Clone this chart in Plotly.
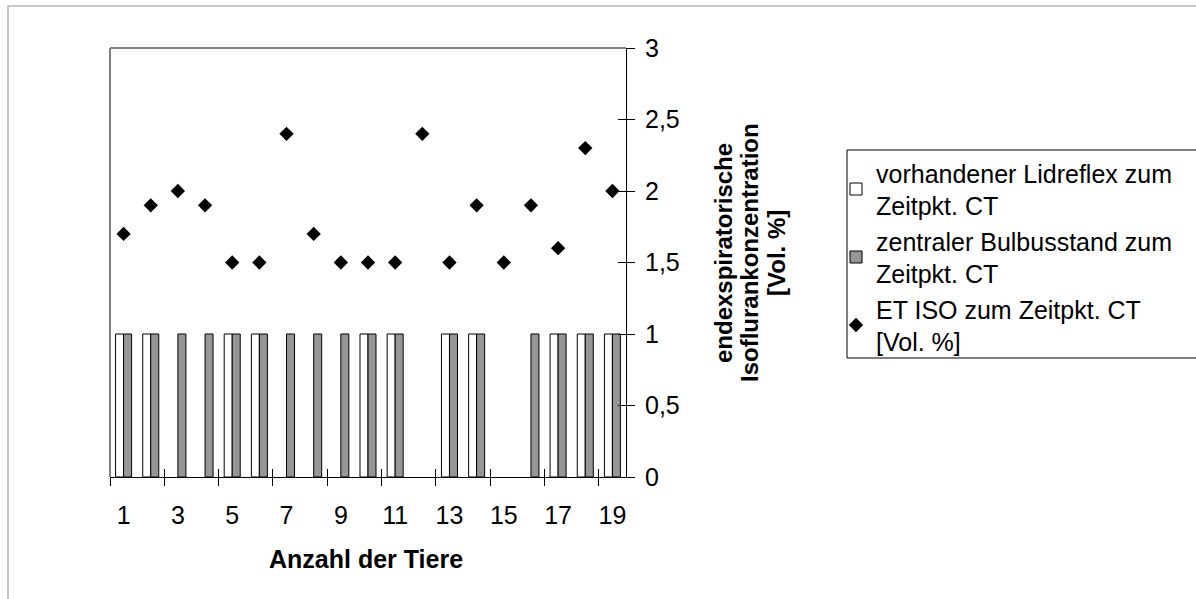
import plotly.graph_objects as go

# Tiere 1..19
tiere = list(range(1, 20))
tick_labels = [str(t) for t in tiere if t % 2 == 1]

# 1 = vorhanden, 0 = nicht vorhanden
lidreflex = [1, 1, 0, 0, 1, 1, 0, 0, 0, 1, 1, 0, 1, 1, 0, 0, 1, 1, 1]
bulbusstand = [1, 1, 1, 1, 1, 1, 1, 1, 1, 1, 1, 0, 1, 1, 0, 1, 1, 1, 1]
# endexspiratorische Isoflurankonzentration [Vol. %]
et_iso = [1.7, 1.9, 2.0, 1.9, 1.5, 1.5, 2.4, 1.7, 1.5, 1.5,
          1.5, 2.4, 1.5, 1.9, 1.5, 1.9, 1.6, 2.3, 2.0]

W, H = 1196, 599
L, R, T, B = 110, 626, 48, 477          # plot area in pixels
PW, PH = R - L, B - T


def px(x):
    return (x - L) / PW


def py(y):
    return (B - y) / PH


FONT = "Liberation Sans, Arial, sans-serif"
GRAY = "#969696"

fig = go.Figure()
fig.add_trace(go.Bar(
    x=tiere, y=[v if v else None for v in lidreflex],
    name="vorhandener Lidreflex zum<br>Zeitpkt. CT",
    marker=dict(color="white", line=dict(color="black", width=1)),
))
fig.add_trace(go.Bar(
    x=tiere, y=[v if v else None for v in bulbusstand],
    name="zentraler Bulbusstand zum<br>Zeitpkt. CT",
    marker=dict(color=GRAY, line=dict(color="black", width=1)),
))
fig.add_trace(go.Scatter(
    x=tiere, y=et_iso, mode="markers",
    name="ET ISO zum Zeitpkt. CT<br>[Vol. %]",
    marker=dict(symbol="diamond", size=11, color="black"),
))

boundaries = [t - 0.5 for t in tiere if t % 2 == 1]
xr = [0.5, 19.5]

fig.update_layout(
    width=W, height=H,
    margin=dict(l=L, r=W - R, t=T, b=H - B, autoexpand=False),
    paper_bgcolor="white", plot_bgcolor="white",
    separators=", ",
    font=dict(family=FONT, size=25, color="black"),
    barmode="group", bargap=0.41, bargroupgap=0,
    xaxis=dict(range=xr, tickmode="array", tickvals=boundaries,
               ticks="outside", ticklen=8, tickcolor="black", tickwidth=1,
               showticklabels=False, showgrid=False, zeroline=False,
               showline=True, linecolor="black", linewidth=1),
    xaxis2=dict(overlaying="x", anchor="y", range=xr, tickmode="array",
                tickvals=boundaries, ticks="inside", ticklen=8,
                tickcolor="black", tickwidth=1, showticklabels=False,
                showgrid=False, zeroline=False, showline=False),
    xaxis3=dict(overlaying="x", anchor="y", range=xr, tickmode="array",
                tickvals=[t for t in tiere if t % 2 == 1], ticktext=tick_labels,
                ticks="", ticklabelstandoff=21, showgrid=False,
                zeroline=False, showline=False,
                tickfont=dict(size=25)),
    yaxis=dict(side="right", range=[0, 3], dtick=0.5, tick0=0,
               ticks="outside", ticklen=8, tickcolor="black", tickwidth=1,
               ticklabelstandoff=5, showgrid=False, zeroline=False,
               showline=True, linecolor="black", linewidth=1,
               tickfont=dict(size=25)),
    yaxis2=dict(overlaying="y", side="right", anchor="x", range=[0, 3],
                dtick=0.5, tick0=0, ticks="inside", ticklen=8,
                tickcolor="black", tickwidth=1, showticklabels=False,
                showgrid=False, zeroline=False, showline=False),
    legend=dict(x=px(836), y=py(150), xanchor="left", yanchor="top",
                xref="paper", yref="paper",
                borderwidth=0, bgcolor="rgba(0,0,0,0)",
                font=dict(size=25), itemwidth=30, tracegroupgap=4),
    showlegend=True,
)

# empty traces so the overlay axes are laid out
fig.add_trace(go.Scatter(x=[], y=[], xaxis="x2", yaxis="y2", showlegend=False,
                         hoverinfo="skip"))
fig.add_trace(go.Scatter(x=[], y=[], xaxis="x3", yaxis="y", showlegend=False,
                         hoverinfo="skip"))

# outer chart frame, legend box and plot-area border (top and left)
fig.add_shape(type="rect", xref="paper", yref="paper",
              x0=px(8), x1=px(1210), y0=py(6), y1=py(620),
              line=dict(color="#c8c8c8", width=2), layer="below")
fig.add_shape(type="rect", xref="paper", yref="paper",
              x0=px(847), x1=px(1220), y0=py(150), y1=py(358),
              line=dict(color="black", width=1), layer="below")
fig.add_shape(type="line", xref="paper", yref="paper", x0=0, x1=1, y0=1, y1=1,
              line=dict(color="#808080", width=2))
fig.add_shape(type="line", xref="paper", yref="paper", x0=0, x1=0, y0=0, y1=1,
              line=dict(color="#808080", width=2))

# axis titles
fig.add_annotation(text="<b>Anzahl der Tiere</b>", xref="paper", yref="paper",
                   x=px(366), y=py(559), showarrow=False,
                   font=dict(size=25), xanchor="center", yanchor="middle")
for txt, xp in [("endexspiratorische", 723),
                ("Isoflurankonzentration", 749),
                ("[Vol. %]", 776)]:
    fig.add_annotation(text=f"<b>{txt}</b>", xref="paper", yref="paper",
                       x=px(xp), y=py(253), showarrow=False, textangle=-90,
                       font=dict(size=24), xanchor="center", yanchor="middle")

fig.write_html("out.html")
